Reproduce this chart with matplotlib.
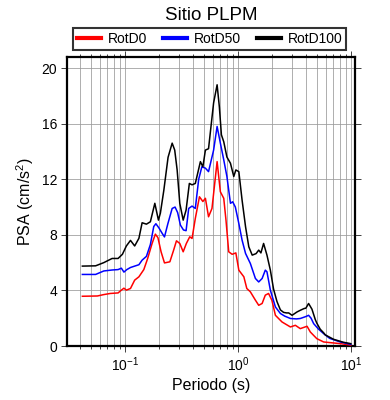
import matplotlib
matplotlib.use("Agg")
import matplotlib.pyplot as plt
from matplotlib.ticker import LogLocator, MultipleLocator, NullFormatter

plt.rcParams["font.family"] = ["Liberation Sans", "DejaVu Sans"]
plt.rcParams["mathtext.fontset"] = "custom"
plt.rcParams["mathtext.rm"] = "Liberation Sans"

# Datos (periodo en s, PSA en cm/s2)
T_D100 = [0.042, 0.055, 0.065, 0.077, 0.087, 0.095, 0.103, 0.112, 0.122, 0.133,
          0.142, 0.155, 0.168, 0.184, 0.198, 0.206, 0.221, 0.241, 0.262, 0.276,
          0.29, 0.306, 0.328, 0.348, 0.372, 0.393, 0.42, 0.466, 0.49, 0.516,
          0.55, 0.61, 0.655, 0.686, 0.715, 0.75, 0.8, 0.86, 0.92, 0.96,
          1.02, 1.09, 1.17, 1.25, 1.34, 1.45, 1.53, 1.6, 1.69, 1.81,
          1.94, 2.07, 2.22, 2.38, 2.54, 2.7, 2.82, 3.02, 3.34, 3.57,
          3.87, 4.0, 4.23, 4.53, 4.85, 5.0, 5.37, 5.75, 5.94, 7.05,
          8.6, 10.0]
RotD100 = [5.75, 5.77, 6.0, 6.3, 6.3, 6.6, 7.2, 7.6, 7.2, 7.75,
           8.87, 8.77, 8.94, 10.27, 9.06, 9.56, 11.2, 13.58, 14.6, 14.1,
           12.67, 10.27, 9.06, 9.78, 11.7, 11.6, 11.7, 13.27, 12.9, 14.1,
           14.2, 17.5, 18.8, 17.2, 15.2, 14.7, 13.6, 13.15, 12.2, 12.67,
           12.55, 10.5, 8.58, 7.14, 6.54, 6.65, 6.9, 6.7, 7.38, 6.54,
           5.46, 4.1, 3.2, 2.6, 2.42, 2.38, 2.38, 2.21, 2.45, 2.57,
           2.7, 2.72, 3.06, 2.65, 1.9, 1.65, 1.2, 0.95, 0.8, 0.48,
           0.27, 0.17]

T_D50 = [0.042, 0.055, 0.065, 0.077, 0.087, 0.093, 0.098, 0.104, 0.112, 0.122,
         0.133, 0.142, 0.155, 0.168, 0.18, 0.188, 0.2, 0.214, 0.224, 0.24,
         0.262, 0.278, 0.293, 0.31, 0.33, 0.348, 0.367, 0.393, 0.42, 0.45,
         0.48, 0.516, 0.55, 0.61, 0.655, 0.7, 0.75, 0.8, 0.86, 0.9,
         0.95, 1.02, 1.09, 1.17, 1.29, 1.43, 1.53, 1.64, 1.75, 1.81,
         1.94, 2.15, 2.38, 2.6, 2.92, 3.3, 3.57, 4.0, 4.23, 4.45,
         4.69, 5.2, 5.75, 6.5, 8.07, 10.0]
RotD50 = [5.15, 5.15, 5.4, 5.47, 5.5, 5.6, 5.32, 5.5, 5.65, 5.75,
          5.85, 6.18, 6.45, 7.3, 8.6, 8.8, 8.5, 8.1, 7.85, 8.8,
          9.9, 10.0, 9.6, 8.7, 8.35, 8.3, 9.9, 10.07, 9.9, 12.0,
          12.9, 12.8, 12.55, 14.1, 15.8, 14.6, 13.4, 12.2, 10.27, 10.38,
          10.0, 8.82, 7.62, 6.66, 5.94, 4.86, 4.61, 4.86, 5.46, 5.34,
          4.02, 2.81, 2.34, 2.15, 1.98, 1.95, 1.98, 2.12, 2.21, 2.0,
          1.61, 1.2, 0.89, 0.55, 0.29, 0.12]

T_D0 = [0.042, 0.057, 0.065, 0.074, 0.087, 0.093, 0.098, 0.103, 0.112, 0.122,
        0.133, 0.147, 0.159, 0.174, 0.186, 0.196, 0.209, 0.224, 0.25, 0.27,
        0.286, 0.306, 0.328, 0.35, 0.375, 0.393, 0.42, 0.457, 0.49, 0.516,
        0.55, 0.59, 0.655, 0.7, 0.75, 0.785, 0.83, 0.89, 0.96, 1.02,
        1.13, 1.2, 1.29, 1.43, 1.53, 1.64, 1.75, 1.87, 2.0, 2.15,
        2.46, 2.92, 3.23, 3.57, 4.1, 4.38, 5.0, 5.75, 8.07, 10.0]
RotD0 = [3.58, 3.6, 3.7, 3.78, 3.82, 4.02, 4.16, 4.02, 4.14, 4.74,
         4.98, 5.5, 6.3, 7.38, 8.05, 7.8, 6.78, 5.98, 6.06, 6.9,
         7.57, 7.38, 6.78, 7.38, 7.86, 7.74, 9.18, 10.74, 10.4, 10.63,
         9.3, 9.9, 13.27, 11.1, 10.63, 9.06, 6.78, 6.6, 6.7, 5.46,
         4.98, 4.14, 3.9, 3.3, 2.93, 3.06, 3.66, 3.78, 3.3, 2.21,
         1.73, 1.37, 1.49, 1.25, 1.42, 1.01, 0.53, 0.29, 0.17, 0.07]

fig = plt.figure(figsize=(3.9, 4.0), dpi=100)
ax = fig.add_axes([0.1718, 0.135, 0.7385, 0.7225])

ax.plot(T_D0, RotD0, color="#ff0000", lw=1.1, label="RotD0", zorder=3)
ax.plot(T_D50, RotD50, color="#0000ff", lw=1.1, label="RotD50", zorder=4)
ax.plot(T_D100, RotD100, color="black", lw=1.1, label="RotD100", zorder=5)

ax.set_xscale("log")
ax.set_xlim(0.0307, 10.9)
ax.set_ylim(0, 20.8)
ax.yaxis.set_major_locator(MultipleLocator(4))
ax.xaxis.set_major_locator(LogLocator(base=10))
ax.xaxis.set_minor_locator(LogLocator(base=10, subs=range(2, 10)))
ax.xaxis.set_minor_formatter(NullFormatter())

ax.grid(True, which="both", axis="x", color="0.6", lw=0.55)
ax.grid(True, which="major", axis="y", color="0.6", lw=0.55)
ax.set_axisbelow(True)

for s in ax.spines.values():
    s.set_linewidth(1.6)
ax.tick_params(which="both", direction="out", top=True, right=True,
               labelsize=10, color="0.25", width=0.7, pad=3)
ax.tick_params(which="major", length=4)
ax.tick_params(which="minor", length=2.5)

ax.set_xlabel("Periodo (s)", fontsize=11.5, labelpad=3)
ax.set_ylabel("PSA (cm/s$^2$)", fontsize=11.5, labelpad=4)

fig.text(0.541, 0.95, "Sitio PLPM", ha="center", va="baseline", fontsize=13.5)

leg = ax.legend(loc="lower left", ncol=3, mode="expand",
                bbox_to_anchor=(0.02, 1.024, 0.95, 0.08),
                fontsize=10, frameon=True, fancybox=False, edgecolor="black",
                handlelength=1.7, handletextpad=0.5, borderaxespad=0,
                borderpad=0.3, columnspacing=1.0)
leg.get_frame().set_linewidth(1.5)
for line in leg.get_lines():
    line.set_linewidth(3)

fig.savefig("out.png", dpi=100)
